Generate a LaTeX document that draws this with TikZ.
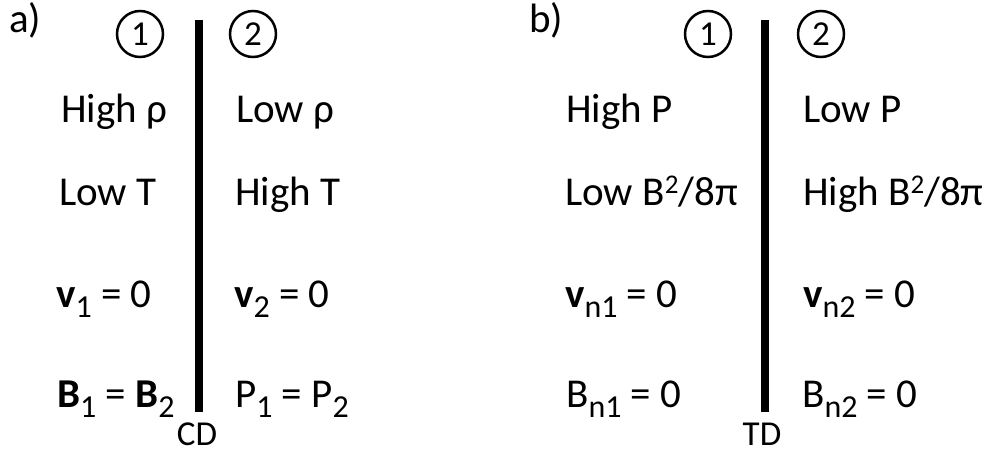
\documentclass[tikz,border=0pt]{standalone}
\usepackage{fontspec}
\setmainfont{Carlito}
\usetikzlibrary{positioning}
\newcommand{\lo}[1]{\raisebox{-10pt}{\fontsize{32}{38}\selectfont #1}}
\newcommand{\hi}[1]{\raisebox{12pt}{\fontsize{27}{32}\selectfont #1}}
\tikzset{
  cell/.style={anchor=base west, inner sep=0pt, font=\fontsize{41}{48}\selectfont},
  num/.style={draw, circle, line width=2.5pt, minimum size=46pt, inner sep=0pt, font=\fontsize{35}{42}\selectfont},
  wall/.style={line width=7.5pt},
  tag/.style={anchor=base, inner sep=0pt, font=\fontsize{35}{42}\selectfont},
}
\begin{document}
\begin{tikzpicture}[x=1pt, y=-1pt]
    \useasboundingbox (0,0) rectangle (991,452);
    % a) contact discontinuity
    \node[cell] (pa) at (9,33) {a)};
    \node[num] (a1) at (140,34) {1};
    \node[num] (a2) at (253,34) {2};
    \coordinate (watop) at (199,20);
    \coordinate (wabot) at (199,412);
    \draw[wall] (watop) -- (wabot);
    \node[tag] (cd) at (197,445) {CD};
    \node[cell] (arho1) at (61,122) {High ρ};
    \node[cell] (arho2) at (236,122) {Low ρ};
    \node[cell] (at1) at (59,205) {Low T};
    \node[cell] (at2) at (235,205) {High T};
    \node[cell] (av1) at (56,307) {\textbf{v}\lo{1} = 0};
    \node[cell] (av2) at (234,307) {\textbf{v}\lo{2} = 0};
    \node[cell] (ab1) at (57,407) {\textbf{B}\lo{1} = \textbf{B}\lo{2}};
    \node[cell] (ap2) at (235,407) {P\lo{1} = P\lo{2}};
    % b) tangential discontinuity
    \node[cell] (pb) at (529,33) {b)};
    \node[num] (b1) at (708,34) {1};
    \node[num] (b2) at (821,34) {2};
    \coordinate (wbtop) at (765,20);
    \coordinate (wbbot) at (765,412);
    \draw[wall] (wbtop) -- (wbbot);
    \node[tag] (td) at (762,445) {TD};
    \node[cell] (bp1) at (566,122) {High P};
    \node[cell] (bp2) at (803,122) {Low P};
    \node[cell] (bm1) at (565,205) {Low B\hi{2}/8π};
    \node[cell] (bm2) at (803,205) {High B\hi{2}/8π};
    \node[cell] (bv1) at (565,307) {\textbf{v}\lo{n1} = 0};
    \node[cell] (bv2) at (803,307) {\textbf{v}\lo{n2} = 0};
    \node[cell] (bb1) at (566,407) {B\lo{n1} = 0};
    \node[cell] (bb2) at (802,407) {B\lo{n2} = 0};
\end{tikzpicture}
\end{document}
